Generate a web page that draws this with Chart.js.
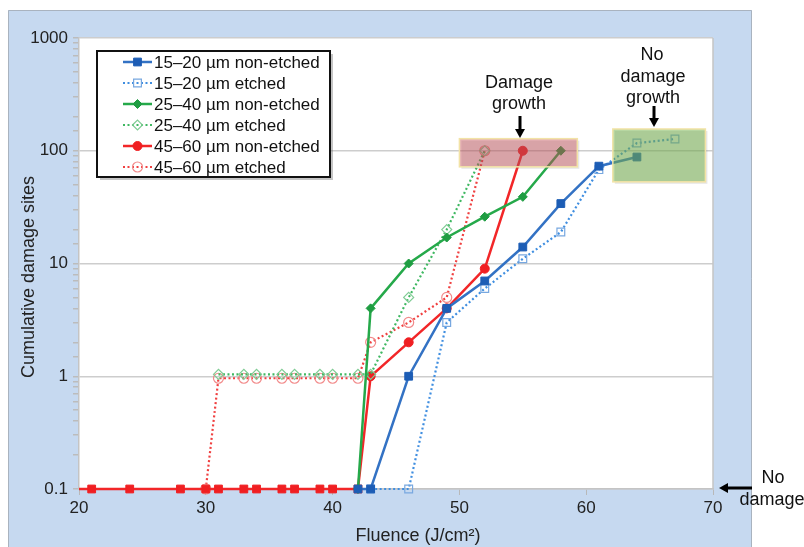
<!DOCTYPE html>
<html>
<head>
<meta charset="utf-8">
<script src="https://cdn.jsdelivr.net/npm/chart.js@4.4.0/dist/chart.umd.min.js"></script>
<style>
  html, body { margin: 0; padding: 0; background: #fff; }
  #wrap { width: 804px; height: 547px; position: relative; }
</style>
</head>
<body>
<div id="wrap"><canvas id="chart"></canvas></div>
<script>
// Series names (legend order)
const seriesNames = [
  "15–20 µm non-etched",
  "15–20 µm etched",
  "25–40 µm non-etched",
  "25–40 µm etched",
  "45–60 µm non-etched",
  "45–60 µm etched",
];

// Fluence (J/cm2) and cumulative damage sites
const blueSolidX = [42, 43, 46, 49, 52, 55, 58, 61, 64];
const blueSolidY = [0.1, 0.1, 1, 4, 7, 14, 34, 73, 88];
const blueDotX = [43, 46, 49, 52, 55, 58, 61, 64, 67];
const blueDotY = [0.1, 0.1, 3, 6, 11, 19, 68, 117, 127];
const greenSolidX = [42, 43, 46, 49, 52, 55, 58];
const greenSolidY = [0.1, 4, 10, 17, 26, 39, 100];
const greenDotX = [31, 33, 34, 36, 37, 39, 40, 42, 43, 46, 49, 52];
const greenDotY = [1.04, 1.04, 1.04, 1.04, 1.04, 1.04, 1.04, 1.04, 1.04, 5, 20, 100];
const redSolidX = [20, 21, 24, 28, 30, 31, 33, 34, 36, 37, 39, 40, 42, 43, 46, 49, 52, 55];
const redSolidY = [0.1, 0.1, 0.1, 0.1, 0.1, 0.1, 0.1, 0.1, 0.1, 0.1, 0.1, 0.1, 0.1, 1, 2, 4, 9, 100];
const redDotX = [30, 31, 33, 34, 36, 37, 39, 40, 42, 43, 46, 49, 52];
const redDotY = [0.1, 0.96, 0.96, 0.96, 0.96, 0.96, 0.96, 0.96, 0.96, 2, 3, 5, 100];

// Axis ticks
const xTicks = [20, 30, 40, 50, 60, 70];
const yTicks = [0.1, 1, 10, 100, 1000];

const FONT = "'Liberation Sans', Arial, Helvetica, sans-serif";

function pts(xs, ys) {
  return xs.map((x, i) => ({ x: x, y: ys[i] }));
}

function isMajor(v) {
  const l = Math.log10(v);
  return Math.abs(l - Math.round(l)) < 1e-6;
}

const datasets = [
  {
    label: seriesNames[0], data: pts(blueSolidX, blueSolidY),
    borderColor: "#3372c4", borderWidth: 2.5, backgroundColor: "#1d5db5",
    pointStyle: "rect", pointRadius: 5.5, pointBorderColor: "#1d5db5", pointBorderWidth: 1,
  },
  {
    label: seriesNames[1], data: pts(blueDotX, blueDotY),
    borderColor: "#3f8ee0", borderWidth: 2.2, borderDash: [2, 2.5], backgroundColor: "rgba(0,0,0,0)",
    pointStyle: "rect", pointRadius: 5.5, pointBorderColor: "#78a8e0", pointBorderWidth: 1.2,
  },
  {
    label: seriesNames[2], data: pts(greenSolidX, greenSolidY),
    borderColor: "#25a94a", borderWidth: 2.5, backgroundColor: "#1f9d42",
    pointStyle: "rectRot", pointRadius: 4.5, pointBorderColor: "#1f9d42", pointBorderWidth: 1,
  },
  {
    label: seriesNames[3], data: pts(greenDotX, greenDotY),
    borderColor: "#3fb862", borderWidth: 2.2, borderDash: [2, 2.5], backgroundColor: "rgba(0,0,0,0)",
    pointStyle: "rectRot", pointRadius: 5, pointBorderColor: "#80cc95", pointBorderWidth: 1.2,
  },
  {
    label: seriesNames[4], data: pts(redSolidX, redSolidY),
    borderColor: "#f22628", borderWidth: 2.5, backgroundColor: "#f01f22",
    pointStyle: redSolidY.map((v) => (v === 0.1 ? "rect" : "circle")),
    pointRadius: redSolidX.map((x, i) => (x === 20 ? 0 : redSolidY[i] === 0.1 ? 5.5 : 4.5)),
    pointBorderColor: "#f01f22", pointBorderWidth: 1,
  },
  {
    label: seriesNames[5], data: pts(redDotX, redDotY),
    borderColor: "#f04040", borderWidth: 2.2, borderDash: [2, 2.5], backgroundColor: "rgba(0,0,0,0)",
    pointStyle: "circle", pointRadius: 5, pointBorderColor: "#f28a8a", pointBorderWidth: 1.2,
  },
];
datasets.forEach((ds) => { ds.clip = false; });

function arrow(ctx, x1, y1, x2, y2) {
  const ang = Math.atan2(y2 - y1, x2 - x1);
  const len = 9, half = 5;
  const bx = x2 - Math.cos(ang) * len, by = y2 - Math.sin(ang) * len;
  ctx.strokeStyle = "#000";
  ctx.fillStyle = "#000";
  ctx.lineWidth = 3;
  ctx.beginPath();
  ctx.moveTo(x1, y1);
  ctx.lineTo(bx, by);
  ctx.stroke();
  ctx.beginPath();
  ctx.moveTo(x2, y2);
  ctx.lineTo(bx - Math.sin(ang) * half, by + Math.cos(ang) * half);
  ctx.lineTo(bx + Math.sin(ang) * half, by - Math.cos(ang) * half);
  ctx.closePath();
  ctx.fill();
}

function marker(ctx, ds, x, y) {
  const style = Array.isArray(ds.pointStyle) ? "circle" : ds.pointStyle;
  const r = Array.isArray(ds.pointRadius) ? 4.5 : ds.pointRadius;
  ctx.fillStyle = ds.backgroundColor;
  ctx.strokeStyle = ds.pointBorderColor;
  ctx.lineWidth = ds.pointBorderWidth;
  ctx.setLineDash([]);
  ctx.beginPath();
  if (style === "rect") {
    const s = r * Math.SQRT1_2;
    ctx.rect(x - s, y - s, 2 * s, 2 * s);
  } else if (style === "rectRot") {
    ctx.moveTo(x - r, y); ctx.lineTo(x, y - r); ctx.lineTo(x + r, y); ctx.lineTo(x, y + r); ctx.closePath();
  } else {
    ctx.arc(x, y, r, 0, Math.PI * 2);
  }
  ctx.fill();
  ctx.stroke();
}

// Background frame, boxes, notes and legend
const decorations = {
  id: "decorations",
  beforeDraw(chart) {
    const { ctx, chartArea: a } = chart;
    ctx.save();
    ctx.fillStyle = "#fff";
    ctx.fillRect(0, 0, chart.width, chart.height);
    ctx.fillStyle = "#c6d9f0";
    ctx.fillRect(8, 10, 744, 537);
    ctx.strokeStyle = "#a9b3bf";
    ctx.lineWidth = 1;
    ctx.beginPath();
    ctx.moveTo(8.5, 547); ctx.lineTo(8.5, 10.5); ctx.lineTo(751.5, 10.5); ctx.lineTo(751.5, 547);
    ctx.stroke();
    ctx.fillStyle = "#fff";
    ctx.fillRect(a.left, a.top, a.right - a.left, a.bottom - a.top);
    ctx.restore();
  },
  beforeDatasetsDraw(chart) {
    const { ctx, chartArea: a } = chart;
    ctx.save();
    ctx.strokeStyle = "#c4c4c4";
    ctx.lineWidth = 1.5;
    ctx.beginPath();
    ctx.moveTo(a.right, a.top); ctx.lineTo(a.right, a.bottom);
    ctx.stroke();
    ctx.restore();
  },
  afterDatasetsDraw(chart) {
    const { ctx } = chart;
    const xs = chart.scales.x, ys = chart.scales.y;
    const boxes = [
      { x0: 50, x1: 59.3, y0: 72, y1: 128, fill: "rgba(196,70,78,0.42)" },
      { x0: 62.1, x1: 69.4, y0: 53, y1: 156, fill: "rgba(112,176,70,0.5)" },
    ];
    ctx.save();
    boxes.forEach((b) => {
      const l = xs.getPixelForValue(b.x0), r = xs.getPixelForValue(b.x1);
      const t = ys.getPixelForValue(b.y1), btm = ys.getPixelForValue(b.y0);
      ctx.fillStyle = "rgba(120,120,120,0.18)";
      ctx.fillRect(l + 2, t + 2, r - l, btm - t);
      ctx.fillStyle = b.fill;
      ctx.fillRect(l, t, r - l, btm - t);
      ctx.strokeStyle = "#f2e3a6";
      ctx.lineWidth = 1.5;
      ctx.strokeRect(l, t, r - l, btm - t);
    });
    ctx.restore();
  },
  afterDraw(chart) {
    const { ctx } = chart;
    ctx.save();
    // axis titles
    ctx.fillStyle = "#222";
    ctx.font = "18px " + FONT;
    ctx.textAlign = "center";
    ctx.textBaseline = "middle";
    ctx.fillText("Fluence (J/cm²)", 418, 536);
    ctx.save();
    ctx.translate(29, 277);
    ctx.rotate(-Math.PI / 2);
    ctx.fillText("Cumulative damage sites", 0, 0);
    ctx.restore();

    // notes
    ctx.fillStyle = "#111";
    ctx.fillText("Damage", 519, 83);
    ctx.fillText("growth", 519, 104);
    ctx.fillText("No", 652, 55);
    ctx.fillText("damage", 653, 77);
    ctx.fillText("growth", 653, 98);
    ctx.fillText("No", 773, 478);
    ctx.fillText("damage", 772, 500);
    arrow(ctx, 520, 116, 520, 138);
    arrow(ctx, 654, 106, 654, 127);
    arrow(ctx, 752, 488, 719, 488);

    // legend
    const lx = 97, ly = 51, lw = 233, lh = 126;
    ctx.fillStyle = "rgba(90,90,90,0.35)";
    ctx.fillRect(lx + 3, ly + 3, lw, lh);
    ctx.fillStyle = "#fff";
    ctx.fillRect(lx, ly, lw, lh);
    ctx.strokeStyle = "#111";
    ctx.lineWidth = 2;
    ctx.strokeRect(lx, ly, lw, lh);
    chart.data.datasets.forEach((ds, i) => {
      const y = 62 + i * 21;
      ctx.strokeStyle = ds.borderColor;
      ctx.lineWidth = ds.borderWidth;
      ctx.setLineDash(ds.borderDash || []);
      ctx.beginPath();
      ctx.moveTo(123, y); ctx.lineTo(152, y);
      ctx.stroke();
      marker(ctx, ds, 137.5, y);
      ctx.fillStyle = "#111";
      ctx.font = "17px " + FONT;
      ctx.textAlign = "left";
      ctx.textBaseline = "middle";
      ctx.fillText(ds.label, 154, y + 1);
    });
    ctx.restore();
  },
};

new Chart(document.getElementById("chart"), {
  type: "line",
  data: { datasets: datasets },
  plugins: [decorations],
  options: {
    responsive: true,
    maintainAspectRatio: false,
    animation: false,
    layout: { padding: { left: 0, top: 38, right: 91, bottom: 0 } },
    plugins: { legend: { display: false }, tooltip: { enabled: false } },
    elements: { line: { tension: 0 } },
    scales: {
      x: {
        type: "linear",
        min: 20,
        max: 70,
        afterFit: (scale) => { scale.height = 58; },
        afterBuildTicks: (scale) => { scale.ticks = xTicks.map((v) => ({ value: v })); },
        ticks: { color: "#222", font: { family: FONT, size: 17 }, padding: 3 },
        grid: { drawOnChartArea: false, tickLength: 6, color: "#b8b8b8" },
        border: { color: "#c4c4c4", width: 1.5 },
      },
      y: {
        type: "logarithmic",
        min: 0.1,
        max: 1000,
        afterFit: (scale) => { scale.width = 79; },
        ticks: {
          autoSkip: false,
          color: "#222",
          font: { family: FONT, size: 17 },
          padding: 5,
          callback: (v) => (isMajor(v) && yTicks.some((t) => Math.abs(t - v) < 1e-9 * t) ? String(yTicks.find((t) => Math.abs(t - v) < 1e-9 * t)) : ""),
        },
        grid: {
          color: (c) => (c.tick && isMajor(c.tick.value) ? "#cdcdcd" : "rgba(0,0,0,0)"),
          tickColor: "#bcbcbc",
          tickLength: 6,
          lineWidth: 1.5,
        },
        border: { color: "#c4c4c4", width: 1.5 },
      },
    },
  },
});
</script>
</body>
</html>
